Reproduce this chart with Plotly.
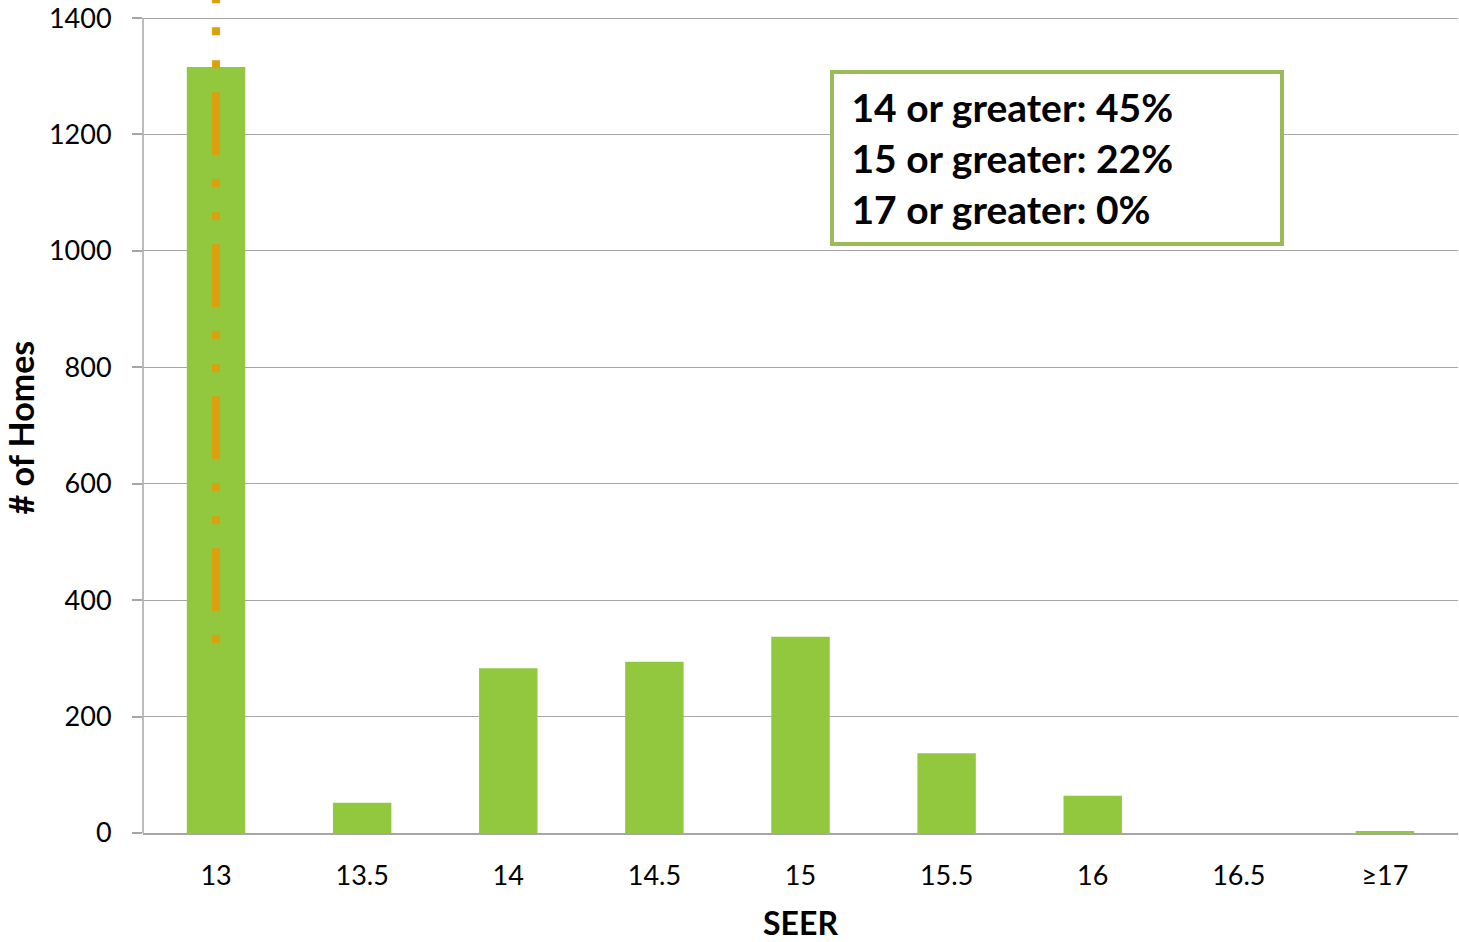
import plotly.graph_objects as go

categories = ["13", "13.5", "14", "14.5", "15", "15.5", "16", "16.5", "≥17"]
homes = [1316, 52, 283, 294, 337, 137, 64, 0, 3]
y_ticks = [0, 200, 400, 600, 800, 1000, 1200, 1400]
marker_line_x = ["13", "13"]
marker_line_y = [326, 1450]
summary_lines = ["14 or greater: 45%", "15 or greater: 22%", "17 or greater: 0%"]

FONT = "Lato"
GREEN = "#92C83E"
ORANGE = "#DAA00E"
GRID = "#A6A6A6"

fig = go.Figure()
fig.add_trace(go.Bar(x=categories, y=homes, marker=dict(color=GREEN, line=dict(width=0)),
                     showlegend=False))
fig.add_trace(go.Scatter(x=marker_line_x, y=marker_line_y, mode="lines",
                         line=dict(color=ORANGE, width=8, dash="8px,24px,63px,24px,8px,25px"),
                         showlegend=False))

# y axis line from first to last tick
fig.add_shape(type="line", xref="paper", yref="y", x0=0, x1=0,
              y0=min(y_ticks), y1=max(y_ticks), line=dict(color=GRID, width=1.5), layer="above")

fig.add_annotation(xref="paper", yref="paper", x=0.5224, y=0.81, xanchor="left", yanchor="middle",
                   text="<br>".join("&nbsp;" + s for s in summary_lines), showarrow=False, align="left",
                   font=dict(family=FONT, size=39, color="black", weight="bold"),
                   bordercolor="#9BBB59", borderwidth=4, borderpad=8, bgcolor="white",
                   width=430, height=152)

# y-axis title centred on the 0-1400 tick span
fig.add_annotation(xref="paper", yref="paper", x=-0.0935, y=0.487, xanchor="center", yanchor="middle",
                   text="<b># of Homes</b>", textangle=-90, showarrow=False,
                   font=dict(family=FONT, size=34, color="black"))

fig.update_layout(
    width=1459, height=942,
    margin=dict(l=143, r=1, t=0, b=109),
    plot_bgcolor="white", paper_bgcolor="white",
    bargap=0.6,
    font=dict(family=FONT, size=26, color="black"),
    xaxis=dict(showline=True, linecolor=GRID, linewidth=1.5, showgrid=False, automargin=False,
               ticks="outside", ticklen=18, tickcolor="rgba(0,0,0,0)",
               tickfont=dict(family=FONT, size=27),
               title=dict(text="<b>SEER</b>", font=dict(family=FONT, size=32), standoff=26)),
    yaxis=dict(range=[0, 1431], tickvals=y_ticks, showgrid=True, gridcolor=GRID, gridwidth=1.2,
               zeroline=False, showline=False, ticks="outside", ticklen=10, tickcolor=GRID,
               tickwidth=1.5, ticklabelstandoff=15, tickfont=dict(family=FONT, size=27),
               automargin=False),
)

fig.write_html("out.html", config={"displayModeBar": False},
               post_script="document.body.style.margin='0';document.body.style.padding='0';")
